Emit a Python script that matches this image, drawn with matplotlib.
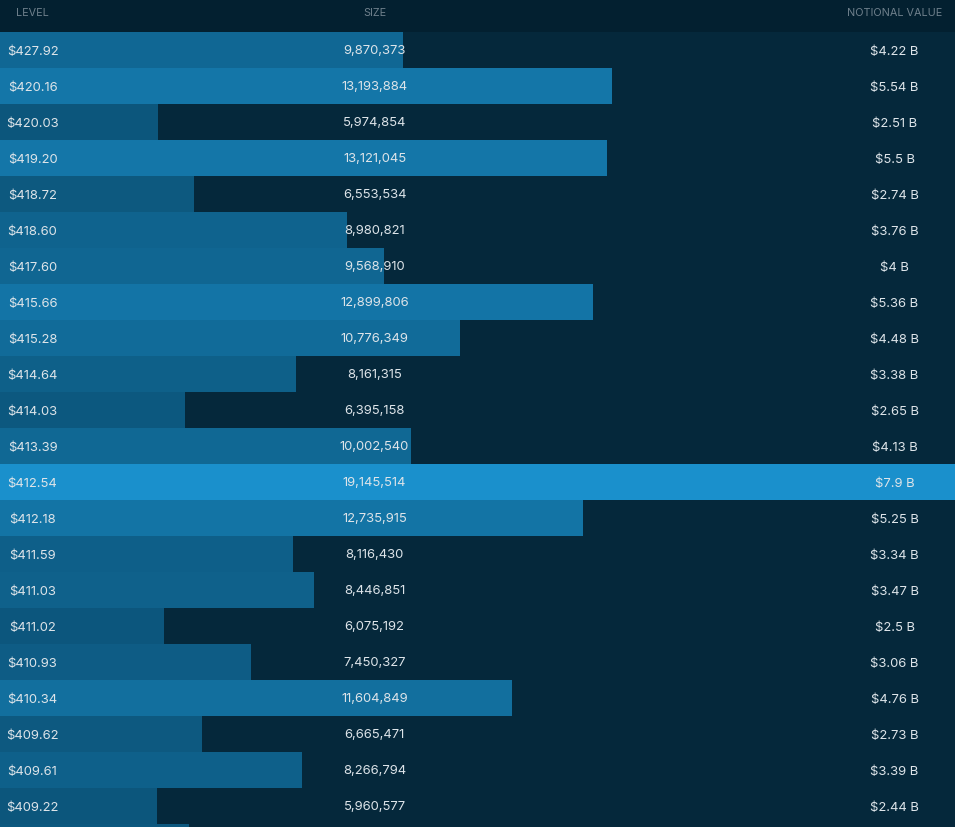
import matplotlib
matplotlib.use("Agg")
import matplotlib.pyplot as plt
from matplotlib.colors import LinearSegmentedColormap, Normalize

# ---- data ----
levels = ["$427.92", "$420.16", "$420.03", "$419.20", "$418.72", "$418.60",
          "$417.60", "$415.66", "$415.28", "$414.64", "$414.03", "$413.39",
          "$412.54", "$412.18", "$411.59", "$411.03", "$411.02", "$410.93",
          "$410.34", "$409.62", "$409.61", "$409.22"]
sizes = [9870373, 13193884, 5974854, 13121045, 6553534, 8980821,
         9568910, 12899806, 10776349, 8161315, 6395158, 10002540,
         19145514, 12735915, 8116430, 8446851, 6075192, 7450327,
         11604849, 6665471, 8266794, 5960577,
         6470000]  # last row is only partly visible at the bottom edge
notional = ["$4.22 B", "$5.54 B", "$2.51 B", "$5.5 B", "$2.74 B", "$3.76 B",
            "$4 B", "$5.36 B", "$4.48 B", "$3.38 B", "$2.65 B", "$4.13 B",
            "$7.9 B", "$5.25 B", "$3.34 B", "$3.47 B", "$2.5 B", "$3.06 B",
            "$4.76 B", "$2.73 B", "$3.39 B", "$2.44 B"]
headers = ["LEVEL", "SIZE", "NOTIONAL VALUE"]

# ---- style ----
W, H = 955, 827
BODY_BG = "#05283b"
HEAD_BG = "#032030"
TEXT_C = "#dde4e9"
HEAD_C = "#6f808c"
ROW_PX = 36
HEAD_PX = 32

plt.rcParams['font.family'] = ['Inter', 'DejaVu Sans']

fig = plt.figure(figsize=(W / 100, H / 100), dpi=100)
fig.patch.set_facecolor(BODY_BG)
ax = fig.add_axes([0, 0, 1, 1])
ax.set_facecolor(BODY_BG)

top = -0.5 - HEAD_PX / ROW_PX
bottom = top + H / ROW_PX
ax.set_ylim(bottom, top)
ax.set_xlim(3.46e6, 18.65e6)

cmap = LinearSegmentedColormap.from_list("blues", ["#0c567c", "#1a90cc"])
norm = Normalize(vmin=min(sizes[:22]), vmax=max(sizes))
ypos = list(range(len(sizes)))
ax.barh(ypos, sizes, left=0, height=1.0,
        color=[cmap(norm(s)) for s in sizes], linewidth=0, antialiased=False)

ax.axhspan(top, -0.5, color=HEAD_BG, zorder=0.5, linewidth=0)

tr = ax.get_yaxis_transform()
col_x = [32.5 / W, 374.5 / W, 894.5 / W]
hy = top + (HEAD_PX / 2 - 2.5) / ROW_PX
for x, h in zip(col_x, headers):
    ax.text(x, hy, h, transform=tr, ha="center", va="center",
            color=HEAD_C, fontsize=7.8, zorder=3)

dy = 1.5 / ROW_PX
for i, (lv, s, nv) in enumerate(zip(levels, sizes, notional)):
    ax.text(col_x[0], i + dy, lv, transform=tr, ha="center", va="center",
            color=TEXT_C, fontsize=9.4, zorder=3)
    ax.text(col_x[1], i + dy, f"{s:,}", transform=tr, ha="center", va="center",
            color=TEXT_C, fontsize=9.4, zorder=3)
    ax.text(col_x[2], i + dy, nv, transform=tr, ha="center", va="center",
            color=TEXT_C, fontsize=9.4, zorder=3)

ax.axis("off")
fig.savefig("out.png", dpi=100, facecolor=BODY_BG)
